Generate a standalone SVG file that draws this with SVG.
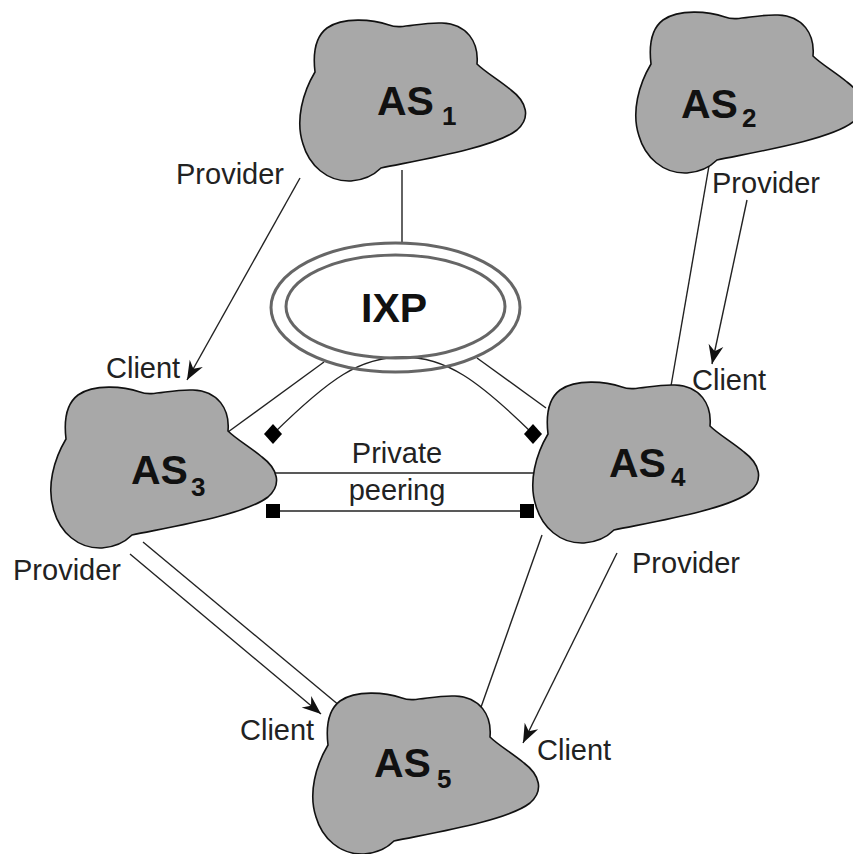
<svg xmlns="http://www.w3.org/2000/svg" width="853" height="854" viewBox="0 0 853 854">
<style>
.cloud{fill:#a8a8a8;stroke:#111;stroke-width:1.6}
.as{font-family:"Liberation Sans",Arial,sans-serif;font-weight:bold;font-size:41px;fill:#111}
.sub{font-family:"Liberation Sans",Arial,sans-serif;font-weight:bold;font-size:26px;fill:#111}
.lbl{font-family:"Liberation Sans",Arial,sans-serif;font-size:29px;fill:#222}
.ln{fill:none;stroke:#222;stroke-width:1.4}
.ring{fill:none;stroke:#666;stroke-width:3}
</style>
<defs>
<path id="cl" d="M90,5 C75,0 45,-4 28,8 C16,17 14,35 16,52 C4,72 -4,100 4,124 C10,145 28,162 52,161 C66,160 76,154 82,148 C120,140 195,128 218,110 C232,98 228,82 212,70 C200,60 186,52 178,44 C180,22 168,4 143,3 C120,2 102,10 90,5 Z"/>
<marker id="ar" markerUnits="userSpaceOnUse" markerWidth="24" markerHeight="20" viewBox="-20 -10 22 20" refX="0" refY="0" orient="auto">
<path d="M0,0 L-19,-7.5 L-13,0 L-19,7.5 Z" fill="#111"/>
</marker>
</defs>
<g id="connectors">
<line class="ln" x1="402" y1="170" x2="402" y2="243"/>
<line class="ln" x1="324" y1="362" x2="228" y2="432"/>
<line class="ln" x1="477" y1="358" x2="546" y2="408"/>
<path class="ln" d="M273,434 C330,378 360,357 403,357 C446,357 478,380 533,434"/>
<path d="M273,424 L282,434 L273,444 L264,434 Z" fill="#000"/>
<path d="M533,424 L542,434 L533,444 L524,434 Z" fill="#000"/>
<line class="ln" x1="270" y1="473" x2="535" y2="473"/>
<line class="ln" x1="273" y1="511" x2="527" y2="511"/>
<rect x="266" y="504" width="14" height="14" fill="#000"/>
<rect x="520" y="504" width="14" height="14" fill="#000"/>
<line class="ln" x1="300" y1="178" x2="187" y2="380" marker-end="url(#ar)"/>
<line class="ln" x1="710" y1="160" x2="671" y2="386"/>
<line class="ln" x1="747" y1="200" x2="712" y2="364" marker-end="url(#ar)"/>
<line class="ln" x1="130" y1="554" x2="321" y2="714" marker-end="url(#ar)"/>
<line class="ln" x1="143" y1="542" x2="340" y2="706"/>
<line class="ln" x1="542" y1="535" x2="480" y2="710"/>
<line class="ln" x1="617" y1="553" x2="523" y2="743" marker-end="url(#ar)"/>
</g>
<g id="ixp">
<ellipse class="ring" cx="395.5" cy="307.5" rx="124.5" ry="64.5"/>
<ellipse class="ring" cx="395.5" cy="306.5" rx="109.5" ry="51.5"/>
<text class="as" x="361" y="322">IXP</text>
</g>
<g id="as1">
<use href="#cl" class="cloud" x="299" y="20"/>
<text class="as" x="377" y="115">AS</text><text class="sub" x="442" y="125">1</text>
</g>
<g id="as2">
<use href="#cl" class="cloud" x="635" y="12"/>
<text class="as" x="681" y="118">AS</text><text class="sub" x="742" y="127">2</text>
</g>
<g id="as3">
<use href="#cl" class="cloud" x="50" y="387"/>
<text class="as" x="131" y="484">AS</text><text class="sub" x="191" y="496">3</text>
</g>
<g id="as4">
<use href="#cl" class="cloud" x="532" y="382"/>
<text class="as" x="609" y="477">AS</text><text class="sub" x="671" y="486">4</text>
</g>
<g id="as5">
<use href="#cl" class="cloud" x="312" y="693"/>
<text class="as" x="374" y="777">AS</text><text class="sub" x="437" y="788">5</text>
</g>
<g id="labels">
<text class="lbl" x="176" y="184">Provider</text>
<text class="lbl" x="106" y="378">Client</text>
<text class="lbl" x="712" y="193">Provider</text>
<text class="lbl" x="692" y="390">Client</text>
<text class="lbl" x="13" y="580">Provider</text>
<text class="lbl" x="240" y="740">Client</text>
<text class="lbl" x="632" y="573">Provider</text>
<text class="lbl" x="537" y="760">Client</text>
<text class="lbl" x="397" y="463" text-anchor="middle">Private</text>
<text class="lbl" x="397" y="500" text-anchor="middle">peering</text>
</g>
</svg>
